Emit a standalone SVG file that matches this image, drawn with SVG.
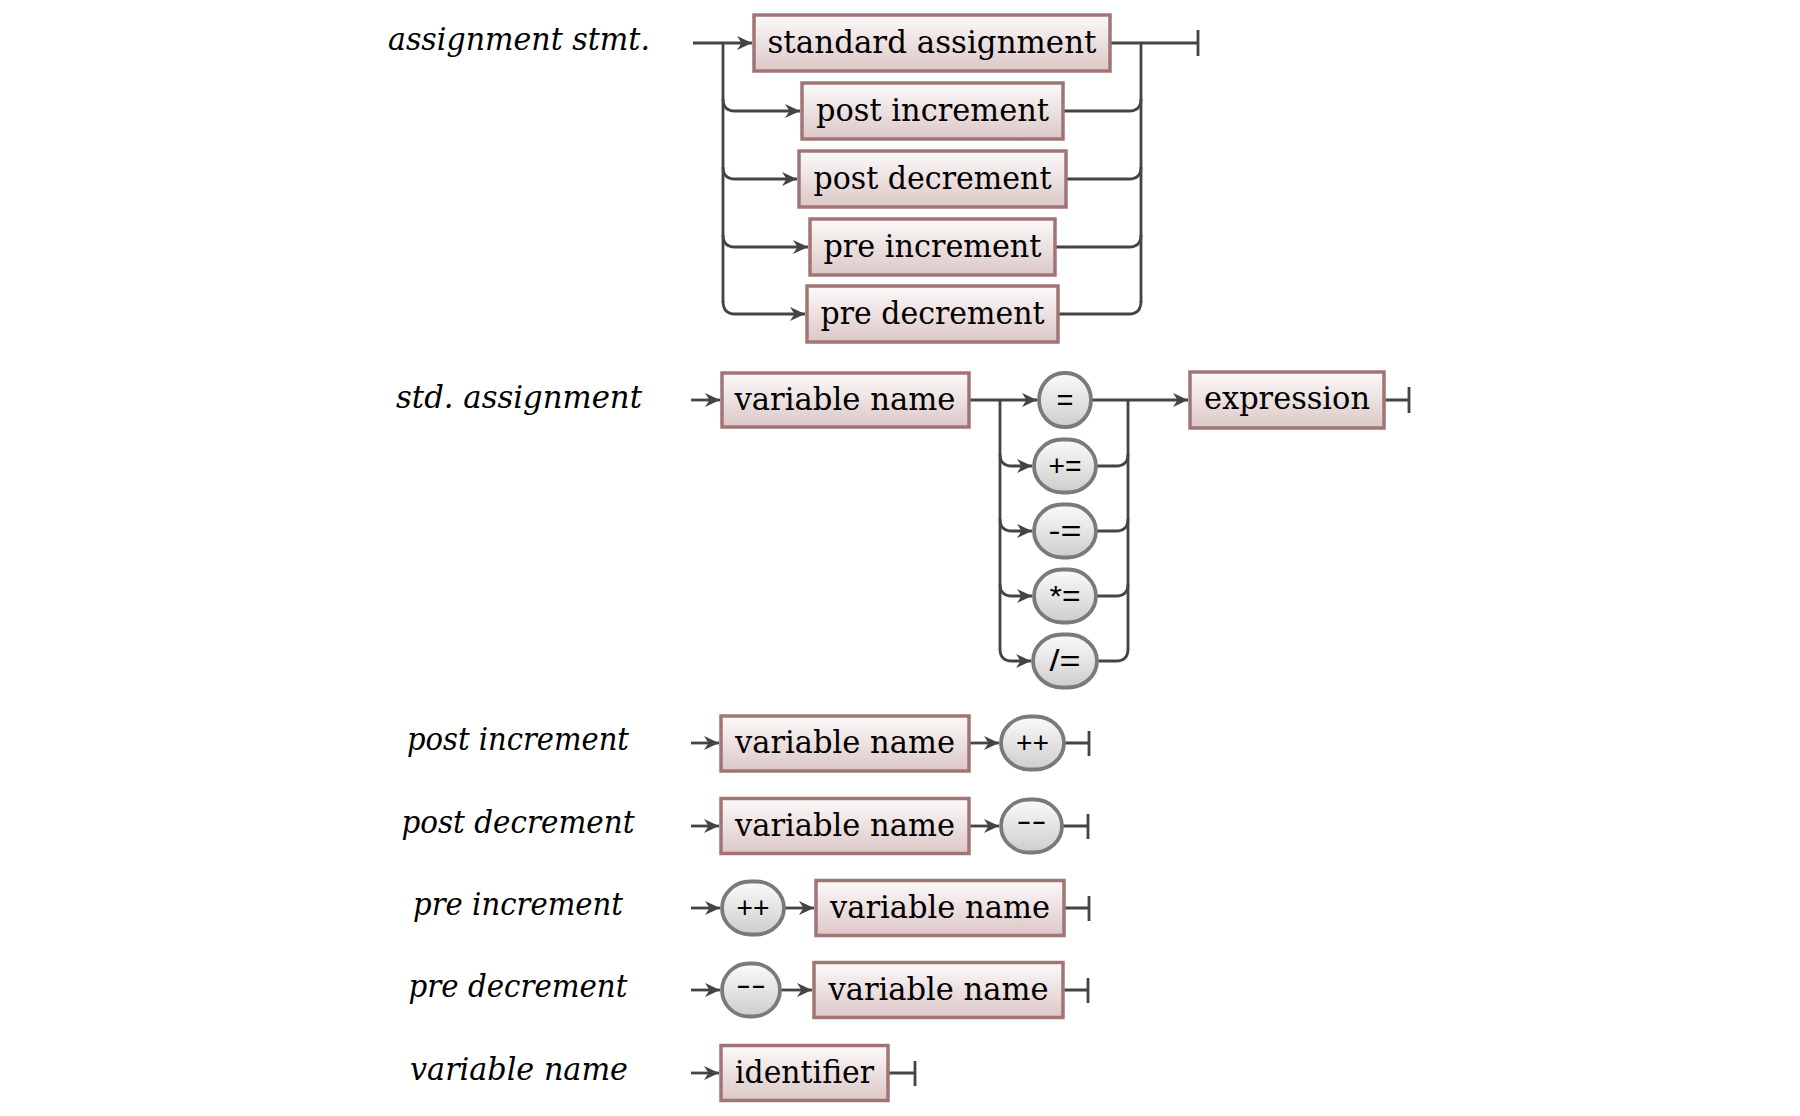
<svg xmlns="http://www.w3.org/2000/svg" width="1800" height="1116" viewBox="0 0 1800 1116">
<defs>
<linearGradient id="gb" x1="0" y1="0" x2="0" y2="1"><stop offset="0" stop-color="#fdfafa"/><stop offset="1" stop-color="#dcc7c7"/></linearGradient>
<linearGradient id="go" x1="0" y1="0" x2="0" y2="1"><stop offset="0" stop-color="#fbfbfb"/><stop offset="1" stop-color="#cdcdcd"/></linearGradient>
<marker id="ar" markerUnits="userSpaceOnUse" markerWidth="18" markerHeight="16" refX="15" refY="8" orient="auto"><path d="M0,1 L15,8 L0,15 L4.5,8 z" fill="#444"/></marker>
</defs>
<style>
.c{fill:none;stroke:#444;stroke-width:2.8}
.a{marker-end:url(#ar)}
.nt rect{fill:url(#gb);stroke:#a27575;stroke-width:3.5}
.t rect{fill:url(#go);stroke:#7a7a7a;stroke-width:3.8}
.bt{font-family:"DejaVu Serif",serif;font-size:32px;text-anchor:middle;fill:#000}
.ot{font-family:"Liberation Sans",Arial,sans-serif;font-size:29px;text-anchor:middle;fill:#000}
.lb{font-family:"DejaVu Serif",serif;font-style:italic;font-size:31px;text-anchor:middle;fill:#000}
</style>
<g id="labels">
<text class="lb" x="519" y="50" textLength="262" lengthAdjust="spacingAndGlyphs">assignment stmt.</text>
<text class="lb" x="519" y="408" textLength="246" lengthAdjust="spacingAndGlyphs">std. assignment</text>
<text class="lb" x="518" y="750" textLength="222" lengthAdjust="spacingAndGlyphs">post increment</text>
<text class="lb" x="518" y="833" textLength="233" lengthAdjust="spacingAndGlyphs">post decrement</text>
<text class="lb" x="518" y="915" textLength="210" lengthAdjust="spacingAndGlyphs">pre increment</text>
<text class="lb" x="518" y="997" textLength="219" lengthAdjust="spacingAndGlyphs">pre decrement</text>
<text class="lb" x="519" y="1080" textLength="218" lengthAdjust="spacingAndGlyphs">variable name</text>
</g>
<g id="connectors">
<path class="c a" d="M693,43 H752"/>
<path class="c" d="M723,43 V302"/>
<path class="c a" d="M723,99 Q723,111 735,111 H800"/>
<path class="c a" d="M723,167 Q723,179 735,179 H797"/>
<path class="c a" d="M723,235 Q723,247 735,247 H808"/>
<path class="c a" d="M723,301 Q723,314 735,314 H805"/>
<path class="c" d="M1110,43 H1198 M1198,30 V56"/>
<path class="c" d="M1141,43 V302"/>
<path class="c" d="M1063,111 H1129 Q1141,111 1141,99"/>
<path class="c" d="M1066,179 H1129 Q1141,179 1141,167"/>
<path class="c" d="M1055,247 H1129 Q1141,247 1141,235"/>
<path class="c" d="M1058,314 H1129 Q1141,314 1141,301"/>
<path class="c a" d="M691,400 H720"/>
<path class="c a" d="M969,400 H1037"/>
<path class="c" d="M1000,400 V650"/>
<path class="c a" d="M1000,454 Q1000,466 1012,466 H1032"/>
<path class="c a" d="M1000,519 Q1000,531 1012,531 H1032"/>
<path class="c a" d="M1000,584 Q1000,596 1012,596 H1032"/>
<path class="c a" d="M1000,649 Q1000,661 1012,661 H1031"/>
<path class="c a" d="M1091,400 H1188"/>
<path class="c" d="M1128,400 V650"/>
<path class="c" d="M1096,466 H1116 Q1128,466 1128,454"/>
<path class="c" d="M1096,531 H1116 Q1128,531 1128,519"/>
<path class="c" d="M1096,596 H1116 Q1128,596 1128,584"/>
<path class="c" d="M1097,661 H1116 Q1128,661 1128,649"/>
<path class="c" d="M1384,400 H1409 M1409,387 V413"/>
<path class="c a" d="M691,743 H719"/>
<path class="c a" d="M969,743 H999"/>
<path class="c" d="M1064,743 H1089 M1089,731 V756"/>
<path class="c a" d="M691,826 H719"/>
<path class="c a" d="M969,826 H999"/>
<path class="c" d="M1062,826 H1088 M1088,814 V839"/>
<path class="c a" d="M691,908 H720"/>
<path class="c a" d="M784,908 H814"/>
<path class="c" d="M1064,908 H1089 M1089,896 V921"/>
<path class="c a" d="M691,990 H720"/>
<path class="c a" d="M780,990 H812"/>
<path class="c" d="M1063,990 H1088 M1088,978 V1003"/>
<path class="c a" d="M691,1073 H719"/>
<path class="c" d="M888,1073 H915 M915,1061 V1086"/>
</g>
<g id="n-standard-assignment" class="nt"><rect x="754" y="15" width="356" height="56"/><text class="bt" x="932" y="53" textLength="329" lengthAdjust="spacingAndGlyphs">standard assignment</text></g>
<g id="n-post-increment" class="nt"><rect x="802" y="83" width="261" height="56"/><text class="bt" x="932.5" y="121" textLength="233" lengthAdjust="spacingAndGlyphs">post increment</text></g>
<g id="n-post-decrement" class="nt"><rect x="799" y="151" width="267" height="56"/><text class="bt" x="932.5" y="189" textLength="238" lengthAdjust="spacingAndGlyphs">post decrement</text></g>
<g id="n-pre-increment" class="nt"><rect x="810" y="219" width="245" height="56"/><text class="bt" x="932.5" y="257" textLength="218" lengthAdjust="spacingAndGlyphs">pre increment</text></g>
<g id="n-pre-decrement" class="nt"><rect x="807" y="286" width="251" height="56"/><text class="bt" x="932.5" y="324" textLength="224" lengthAdjust="spacingAndGlyphs">pre decrement</text></g>
<g id="n-std-varname" class="nt"><rect x="722" y="373" width="247" height="54"/><text class="bt" x="845" y="410" textLength="221" lengthAdjust="spacingAndGlyphs">variable name</text></g>
<g id="t-eq" class="t"><rect x="1039" y="373" width="52" height="54" rx="25" ry="27"/><text class="ot" x="1065" y="410">=</text></g>
<g id="t-pluseq" class="t"><rect x="1034" y="439.5" width="62" height="53" rx="28" ry="26.5"/><text class="ot" x="1065" y="476" textLength="33" lengthAdjust="spacingAndGlyphs">+=</text></g>
<g id="t-minuseq" class="t"><rect x="1034" y="504.5" width="62" height="53" rx="28" ry="26.5"/><text class="ot" x="1065" y="541" textLength="33" lengthAdjust="spacingAndGlyphs">-=</text></g>
<g id="t-muleq" class="t"><rect x="1034" y="569.5" width="62" height="53" rx="28" ry="26.5"/><text class="ot" x="1065" y="606" textLength="31" lengthAdjust="spacingAndGlyphs">*=</text></g>
<g id="t-diveq" class="t"><rect x="1033" y="634.5" width="64" height="53" rx="29" ry="26.5"/><text class="ot" x="1065" y="671" textLength="31" lengthAdjust="spacingAndGlyphs">/=</text></g>
<g id="n-expression" class="nt"><rect x="1190" y="372" width="194" height="56"/><text class="bt" x="1287" y="409" textLength="166" lengthAdjust="spacingAndGlyphs">expression</text></g>
<g id="n-postinc-varname" class="nt"><rect x="721" y="716" width="248" height="55"/><text class="bt" x="845" y="753" textLength="220" lengthAdjust="spacingAndGlyphs">variable name</text></g>
<g id="t-postinc-pp" class="t"><rect x="1001" y="716.5" width="63" height="53" rx="29" ry="26.5"/><text class="ot" x="1032.5" y="753" textLength="33" lengthAdjust="spacingAndGlyphs">++</text></g>
<g id="n-postdec-varname" class="nt"><rect x="721" y="798.5" width="248" height="55"/><text class="bt" x="845" y="836" textLength="220" lengthAdjust="spacingAndGlyphs">variable name</text></g>
<g id="t-postdec-mm" class="t"><rect x="1001" y="799.5" width="61" height="53" rx="28" ry="26.5"/><text class="ot" x="1031.5" y="831" textLength="30" lengthAdjust="spacingAndGlyphs">--</text></g>
<g id="t-preinc-pp" class="t"><rect x="722" y="881.5" width="62" height="53" rx="28" ry="26.5"/><text class="ot" x="753" y="918" textLength="33" lengthAdjust="spacingAndGlyphs">++</text></g>
<g id="n-preinc-varname" class="nt"><rect x="816" y="880.5" width="248" height="55"/><text class="bt" x="940" y="918" textLength="220" lengthAdjust="spacingAndGlyphs">variable name</text></g>
<g id="t-predec-mm" class="t"><rect x="722" y="963.5" width="58" height="53" rx="27" ry="26.5"/><text class="ot" x="751" y="995" textLength="30" lengthAdjust="spacingAndGlyphs">--</text></g>
<g id="n-predec-varname" class="nt"><rect x="814" y="962.5" width="249" height="55"/><text class="bt" x="938.5" y="1000" textLength="220" lengthAdjust="spacingAndGlyphs">variable name</text></g>
<g id="n-identifier" class="nt"><rect x="721" y="1045.5" width="167" height="55"/><text class="bt" x="804.5" y="1083" textLength="139" lengthAdjust="spacingAndGlyphs">identifier</text></g>
</svg>
